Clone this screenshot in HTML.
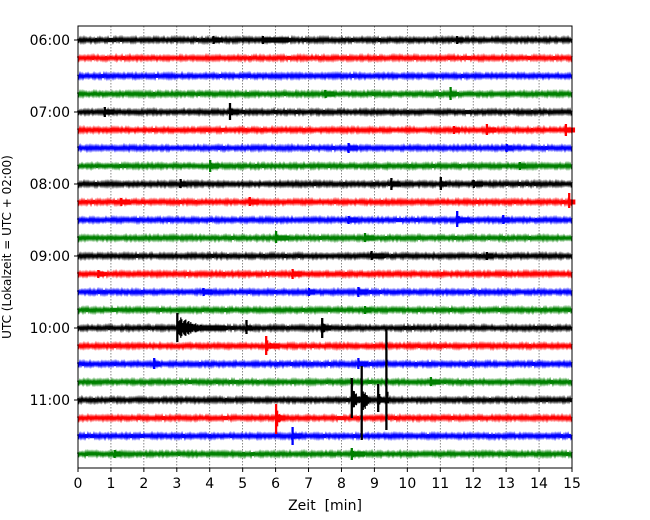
<!DOCTYPE html>
<html><head><meta charset="utf-8"><style>
body{margin:0;background:#fff;}
svg{display:block;font-family:"DejaVu Sans","Liberation Sans",sans-serif;}
</style></head><body>
<svg id="chart" width="650" height="520" xmlns="http://www.w3.org/2000/svg">
<rect x="0" y="0" width="650" height="520" fill="#fff"/>
<g id="grid"></g>
<g id="traces"></g>
<rect x="78" y="26" width="494" height="442" fill="none" stroke="#000" stroke-width="1"/>
<g id="xaxis"></g>
<g id="yaxis"></g>
<text x="325" y="510" font-size="14" text-anchor="middle" xml:space="preserve">Zeit  [min]</text>
<text transform="translate(11,247) rotate(-90)" font-size="12" text-anchor="middle">UTC (Lokalzeit = UTC + 02:00)</text>
</svg>
<script>
const xTicks=[0,1,2,3,4,5,6,7,8,9,10,11,12,13,14,15];
const traceCount=24;
const yTickLabels=["06:00","07:00","08:00","09:00","10:00","11:00"];
const traceColors=["#000","#f00","#00f","#008000"];
// events: trace index, minute, upward amplitude, downward amplitude (px), duration (min)
const evTrace=[0,0,0,3,3,4,4,5,5,5,6,6,7,7,8,8,8,8,9,9,9,10,10,10,11,11,12,12,13,13,14,14,14,15,16,16,16,17,18,18,19,20,20,20,20,21,22,23,23];
const evMin  =[4.1,5.6,11.5,7.5,11.3,4.6,0.8,12.4,14.8,11.4,8.2,13,4,13.4,3.1,9.5,11,12,1.3,5.2,14.9,11.5,12.9,8.2,6,8.7,8.9,12.4,0.6,6.5,3.8,8.5,7,8.7,3,5.1,7.4,5.7,2.3,8.5,10.7,8.3,8.6,9.35,9.1,6,6.5,1.1,8.3];
const evUp   =[4,4,4,4,7,9,5,6,6,4,5,4,6,4,5,6,7,4,4,5,9,9,5,4,7,5,5,4,4,5,4,5,4,4,15,8,10,10,6,6,5,22,34,72,16,14,9,4,6];
const evDown =[4,4,4,4,6,8,5,5,6,4,5,4,6,4,4,6,6,4,4,4,6,7,4,4,5,4,4,4,4,5,4,5,4,4,14,6,10,9,5,5,4,18,40,30,12,16,9,4,6];
const evDur  =[0.3,0.8,0.2,0.3,0.2,0.3,0.3,0.3,0.3,0.2,0.3,0.2,0.3,0.2,0.2,0.3,0.2,0.3,0.3,0.3,0.2,0.4,0.2,0.3,0.4,0.3,0.4,0.2,0.2,0.3,0.3,0.3,0.2,0.2,1.5,0.2,0.3,0.4,0.2,0.3,0.3,0.4,0.3,0.1,0.3,0.3,0.3,0.2,0.4];

const X0=78,X1=572,Y0=40,DY=18;
const xs=m=>X0+(m/15)*(X1-X0);
const ys=i=>Y0+i*DY;
const NS="http://www.w3.org/2000/svg";
function mk(tag,attrs,parent){const e=document.createElementNS(NS,tag);for(const k in attrs)e.setAttribute(k,attrs[k]);parent.appendChild(e);return e;}
const grid=document.getElementById('grid'),tr=document.getElementById('traces'),xa=document.getElementById('xaxis'),ya=document.getElementById('yaxis');
xTicks.forEach(t=>{
  if(t>0&&t<15){const l=mk('line',{x1:xs(t),x2:xs(t),y1:26,y2:468,stroke:'#555','stroke-width':0.7,'stroke-dasharray':'1.5,1.5'},grid);
  
  }
  const tk=mk('line',{x1:xs(t),x2:xs(t),y1:468,y2:472,stroke:'#000'},xa);
  
  
  const tx=mk('text',{x:xs(t),y:488,'font-size':14,'text-anchor':'middle'},xa);tx.textContent=t;
  
  
});
yTickLabels.forEach((lab,k)=>{
  const y=ys(k*4);
  const tk=mk('line',{x1:74,x2:78,y1:y,y2:y,stroke:'#000'},ya);
  
  
  const tx=mk('text',{x:70,y:y+5,'font-size':14,'text-anchor':'end'},ya);tx.textContent=lab;
  
  
});
// background noise texture (deterministic)
function jit(i,j){const v=Math.sin(i*12.9898+j*78.233)*43758.5453;return v-Math.floor(v);}
for(let i=0;i<traceCount;i++){
  const y=ys(i),col=traceColors[i%4];
  let d='M'+X0+','+y;
  for(let p=0;p<=494;p+=1){const a=1.2+0.9*jit(i,p*0.37);d+=' L'+(X0+p)+','+(y+(p%2?a:-a)).toFixed(1);}
  const pth=mk('path',{d:d,fill:'none',stroke:col,'stroke-width':1.6},tr);
  
  
}
evTrace.forEach((ti,k)=>{
  const y=ys(ti),col=traceColors[ti%4];
  const xa0=xs(evMin[k]),xb=xs(evMin[k]+evDur[k]);
  const w=Math.max(3,xb-xa0);
  let d='';let n=0;
  for(let x=xa0;x<=xa0+w;x+=1,n++){
    const f=n<2?1:Math.exp(-3*(x-xa0)/w)*(0.4+0.6*jit(k,n));
    const up=Math.max(2.5,evUp[k]*f),dn=Math.max(2.5,evDown[k]*f);
    d+='M'+x.toFixed(1)+','+(y-up).toFixed(1)+' L'+x.toFixed(1)+','+(y+dn).toFixed(1)+' ';
  }
  const e=mk('path',{d:d,stroke:col,'stroke-width':1.3,fill:'none'},tr);
  
  
});
</script>
</body></html>
